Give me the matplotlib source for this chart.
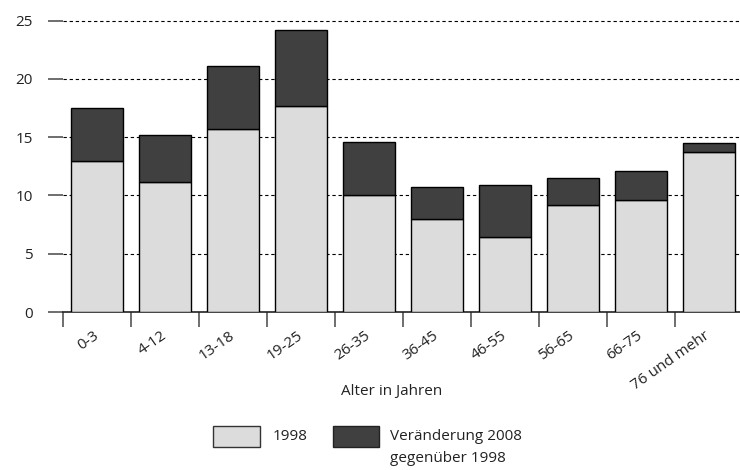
import matplotlib
matplotlib.use('Agg')
import matplotlib.pyplot as plt
from matplotlib.patches import Rectangle
import numpy as np

plt.rcParams['font.family'] = ['Open Sans', 'DejaVu Sans']

# Altersgruppen und Werte
kategorien = ['0-3', '4-12', '13-18', '19-25', '26-35', '36-45',
              '46-55', '56-65', '66-75', '76 und mehr']
werte_1998 = [13.0, 11.2, 15.7, 17.7, 10.0, 8.0, 6.4, 9.2, 9.6, 13.7]
veraenderung_2008 = [4.5, 4.0, 5.4, 6.5, 4.6, 2.7, 4.5, 2.3, 2.5, 0.8]
y_ticks = [0, 5, 10, 15, 20, 25]

hell = '#dcdcdc'
dunkel = '#404040'
fs = 11

fig = plt.figure(figsize=(7.4, 4.7), dpi=100)
W, H = 740, 470
ax = fig.add_axes([63 / W, 1 - 312 / H, (740 - 63) / W, (312 - 18.4) / H])

x = np.arange(len(kategorien))
ax.bar(x, werte_1998, width=0.76, color=hell, edgecolor='black', linewidth=1, zorder=3)
ax.bar(x, veraenderung_2008, width=0.76, bottom=werte_1998, color=dunkel,
       edgecolor='black', linewidth=1, zorder=3)

ax.set_xlim(-0.5, 9.46)
ax.set_ylim(0, 25.2)

# y-Achse
ax.set_yticks(y_ticks)
ax.tick_params(axis='y', length=10.8, width=1.2, color='#555555', pad=11,
               labelsize=fs, labelcolor='#222222')
for y in y_ticks[1:]:
    ax.axhline(y, color='black', linestyle=(0, (3, 2.5)), linewidth=0.8, zorder=1)

# x-Achse: Striche zwischen den Balken, Beschriftung unter der Mitte
ax.set_xticks(x - 0.5)
ax.set_xticklabels([])
ax.tick_params(axis='x', which='major', length=10.8, width=1.2, color='#555555')
ax.set_xticks(x, kategorien, minor=True)
ax.tick_params(axis='x', which='minor', length=0, pad=16, labelsize=fs,
               labelcolor='#222222')
for lab in ax.get_xticklabels(minor=True):
    lab.set_rotation(35)
    lab.set_ha('right')
    lab.set_va('center')
    lab.set_rotation_mode('anchor')

for s in ['top', 'right', 'left']:
    ax.spines[s].set_visible(False)
ax.spines['bottom'].set_color('#222222')
ax.spines['bottom'].set_linewidth(1.2)

fig.text(392 / W, 1 - 392 / H, 'Alter in Jahren', ha='center', va='center',
         fontsize=fs, color='#222222')

# Legende
fig.add_artist(Rectangle((213 / W, 1 - 447 / H), 47 / W, 21 / H, facecolor=hell,
                         edgecolor='#333333', linewidth=1, transform=fig.transFigure))
fig.text(273 / W, 1 - 437 / H, '1998', ha='left', va='center', fontsize=fs,
         color='#222222')
fig.add_artist(Rectangle((333 / W, 1 - 447 / H), 46 / W, 21 / H, facecolor=dunkel,
                         edgecolor='#222222', linewidth=1, transform=fig.transFigure))
fig.text(390 / W, 1 - 437 / H, 'Veränderung 2008', ha='left', va='center',
         fontsize=fs, color='#222222')
fig.text(390 / W, 1 - 459 / H, 'gegenüber 1998', ha='left', va='center',
         fontsize=fs, color='#222222')

fig.savefig('out.png', dpi=100)
